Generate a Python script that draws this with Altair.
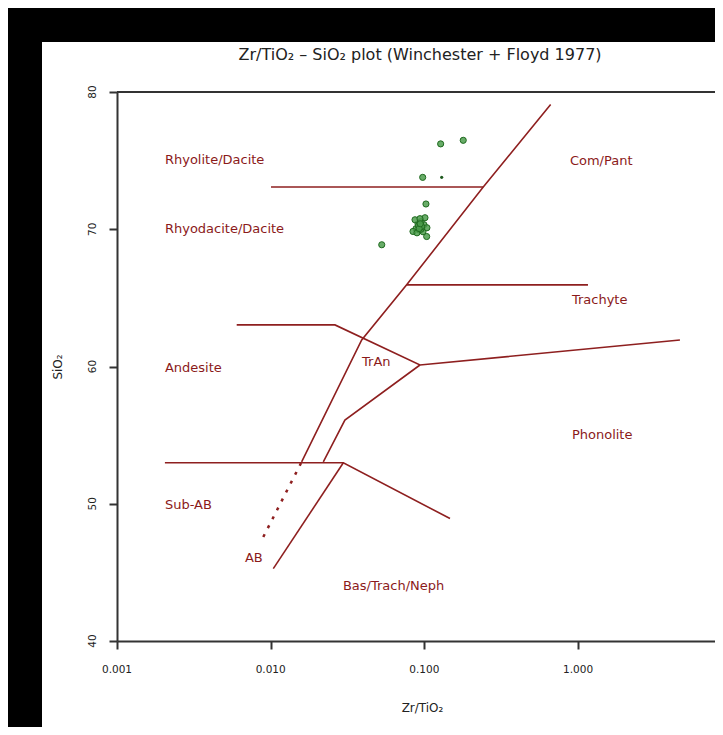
import altair as alt
import pandas as pd

# ---- boundary lines (Zr/TiO2, SiO2) ----
seg_names = ["rhy", "diag1", "trach", "andes", "diag2", "subab", "diag3"]
seg_x = [
    [0.01005, 0.2416],
    [0.663, 0.2416, 0.0767, 0.0391, 0.0159],
    [0.0767, 1.16],
    [0.00601, 0.0262, 0.0936, 4.60],
    [0.0936, 0.0304, 0.022],
    [0.00205, 0.0297, 0.1468],
    [0.0297, 0.0104],
]
seg_y = [
    [73.08, 73.08],
    [79.09, 73.08, 65.95, 61.93, 53.05],
    [65.95, 65.95],
    [63.03, 63.03, 60.11, 61.93],
    [60.11, 56.1, 53.05],
    [52.99, 52.99, 48.92],
    [52.99, 45.27],
]
dot_x = [0.0159, 0.00895]
dot_y = [53.05, 47.58]

# ---- field labels ----
label_text = ["Rhyolite/Dacite", "Rhyodacite/Dacite", "Andesite", "Sub-AB", "AB",
              "Bas/Trach/Neph", "TrAn", "Com/Pant", "Trachyte", "Phonolite"]
label_x = [0.00205, 0.00205, 0.00205, 0.00205, 0.0068, 0.0295, 0.0393, 0.885, 0.912, 0.912]
label_y = [75.07, 70.04, 59.89, 49.89, 46.02, 43.98, 60.33, 75.0, 64.85, 55.0]

# ---- samples ----
pt_x = [0.1276, 0.179, 0.0975, 0.1024, 0.0528,
        0.0936, 0.0909, 0.0965, 0.0882, 0.0994, 0.0922, 0.0950, 0.0869, 0.1009,
        0.0843, 0.1035, 0.0895, 0.0979, 0.0936, 0.1039, 0.0922, 0.0950,
        0.0930, 0.0945, 0.0915, 0.0960, 0.0925, 0.0940]
pt_y = [76.22, 76.48, 73.78, 71.84, 68.87,
        70.26, 70.40, 70.11, 70.04, 70.33, 69.96, 70.55, 70.69, 70.84,
        69.84, 69.47, 69.74, 69.82, 70.77, 70.11, 70.20, 70.00,
        70.30, 70.15, 70.25, 70.20, 70.05, 70.40]
small_x = [0.1296]
small_y = [73.78]

x_ticks = [0.001, 0.01, 0.1, 1]
x_tick_labels = ["0.001", "0.010", "0.100", "1.000"]
y_ticks = [40, 50, 60, 70, 80]
y_tick_labels = ["40", "50", "60", "70", "80"]

W, H = 598, 549
LINE = "#8e1f1f"
FONT = "DejaVu Sans"

rows = []
for name, xs, ys in zip(seg_names, seg_x, seg_y):
    for i, (a, b) in enumerate(zip(xs, ys)):
        rows.append({"seg": name, "o": i, "x": a, "y": b})
lines_df = pd.DataFrame(rows)
dot_df = pd.DataFrame({"x": dot_x, "y": dot_y})
lab_df = pd.DataFrame({"t": label_text, "x": label_x, "y": label_y})
pt_df = pd.DataFrame({"x": pt_x, "y": pt_y})
small_df = pd.DataFrame({"x": small_x, "y": small_y})
xt_df = pd.DataFrame({"x": x_ticks, "t": x_tick_labels})
yt_df = pd.DataFrame({"y": y_ticks, "t": y_tick_labels})
one = pd.DataFrame({"a": [0]})

X = alt.X("x:Q",
          scale=alt.Scale(type="log", domain=[0.001, 7.78], nice=False),
          axis=alt.Axis(values=x_ticks, labels=False, title="Zr/TiO₂", grid=False,
                        domainColor="#333", domainWidth=2, tickColor="#333", tickWidth=2,
                        tickSize=8, titleFont=FONT, titleFontSize=12, titleFontWeight="normal",
                        titleColor="#222", titlePadding=52, titleX=305))
Y = alt.Y("y:Q",
          scale=alt.Scale(domain=[40, 80], nice=False, zero=False),
          axis=alt.Axis(values=y_ticks, labels=False, title="SiO₂", grid=False,
                        domainColor="#333", domainWidth=2, tickColor="#333", tickWidth=2,
                        tickSize=8, titleFont=FONT, titleFontSize=12, titleFontWeight="normal",
                        titleColor="#222", titlePadding=44))

# tick labels drawn through the same scales
x_lab = alt.Chart(xt_df).mark_text(font=FONT, fontSize=10.5, color="#222", align="center",
                                   baseline="middle").encode(
    x=X, y=alt.value(H + 29), text="t:N")
y_lab = alt.Chart(yt_df).mark_text(font=FONT, fontSize=10.5, color="#222", align="center",
                                   baseline="middle", angle=270).encode(
    y=Y, x=alt.value(-24), text="t:N")

# black frame strips around the white sheet
frame_top = alt.Chart(one).mark_rect(color="black").encode(
    x=alt.value(-120), x2=alt.value(W + 20), y=alt.value(-100), y2=alt.value(-50))
frame_left = alt.Chart(one).mark_rect(color="black").encode(
    x=alt.value(-120), x2=alt.value(-75), y=alt.value(-100), y2=alt.value(H + 100))

title = alt.Chart(one).mark_text(font=FONT, fontSize=16, color="#222", align="center",
                                 baseline="middle").encode(
    x=alt.value(W / 2 + 4), y=alt.value(-37),
    text=alt.value("Zr/TiO₂ – SiO₂ plot (Winchester + Floyd 1977)"))

top_rule = alt.Chart(one).mark_rule(color="#333", strokeWidth=2).encode(
    x=alt.value(0), x2=alt.value(W), y=alt.value(0))

lines = alt.Chart(lines_df).mark_line(color=LINE, strokeWidth=1.6).encode(
    x=X, y=Y, detail="seg:N", order="o:Q")

dots = alt.Chart(dot_df).mark_line(color=LINE, strokeWidth=2.5, strokeDash=[3, 7]).encode(x=X, y=Y)

labels = alt.Chart(lab_df).mark_text(font=FONT, fontSize=13, color="#8b1a1a", align="left",
                                     baseline="middle").encode(x=X, y=Y, text="t:N")

points = alt.Chart(pt_df).mark_point(shape="circle", filled=True, size=38, fill="#4e9e4e",
                                     fillOpacity=0.85, stroke="#1f6a1f", strokeWidth=1,
                                     opacity=1).encode(x=X, y=Y)

small = alt.Chart(small_df).mark_point(shape="circle", filled=True, size=10, color="#1f5a1f",
                                       opacity=1).encode(x=X, y=Y)

chart = alt.layer(lines, dots, labels, points, small, x_lab, y_lab,
                  frame_top, frame_left, title, top_rule).properties(
    width=W, height=H,
    autosize=alt.AutoSizeParams(type="none"),
    padding={"left": 109, "top": 84, "right": 0, "bottom": 86},
).configure(background="white").configure_view(stroke=None)

chart.save("out.html", embed_options={"renderer": "svg", "actions": False})
